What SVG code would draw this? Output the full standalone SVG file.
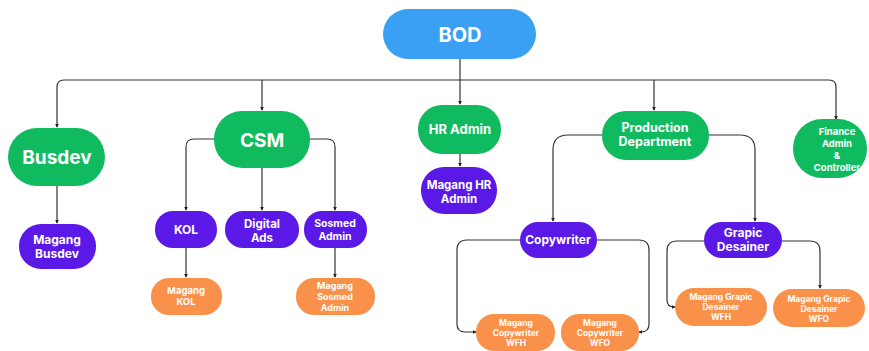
<svg xmlns="http://www.w3.org/2000/svg" width="869" height="351" viewBox="0 0 869 351">
<style>
text{font-family:Inter,"Noto Sans","Liberation Sans",sans-serif;font-weight:700;fill:#fff;text-anchor:middle}
.blue{fill:#3AA0F3}.green{fill:#10BB5F}.purple{fill:#5A19E6}.orange{fill:#FA914A}
.c path{fill:none;stroke:#333;stroke-width:1.2}
</style>
<defs>
<marker id="ah" viewBox="0 0 6 6" refX="5" refY="3" markerWidth="4" markerHeight="4" orient="auto" markerUnits="userSpaceOnUse">
<path d="M0,0 L6,3 L0,6 z" fill="#222"/>
</marker>
</defs>
<rect width="869" height="351" fill="#fff"/>
<g class="c" id="connectors">
<path d="M460,59 V80"/>
<path d="M460,80 H64 Q57,80 57,87 V127" marker-end="url(#ah)"/>
<path d="M460,80 H829 Q836,80 836,87 V119" marker-end="url(#ah)"/>
<path d="M262,80 V110" marker-end="url(#ah)"/>
<path d="M460,80 V104" marker-end="url(#ah)"/>
<path d="M654,80 V110" marker-end="url(#ah)"/>
<path d="M57,186 V223" marker-end="url(#ah)"/>
<path d="M214,139 H194 Q186,139 186,147 V210" marker-end="url(#ah)"/>
<path d="M262,168 V210" marker-end="url(#ah)"/>
<path d="M310,139 H327 Q335,139 335,147 V210" marker-end="url(#ah)"/>
<path d="M186,248 V277" marker-end="url(#ah)"/>
<path d="M335,248 V277" marker-end="url(#ah)"/>
<path d="M460,154 V166" marker-end="url(#ah)"/>
<path d="M602,135 H568 Q553,135 553,150 V221" marker-end="url(#ah)"/>
<path d="M709,135 H740 Q755,135 755,150 V221" marker-end="url(#ah)"/>
<path d="M520,240 H467 Q457,240 457,250 V324 Q457,332 465,332 H476" marker-end="url(#ah)"/>
<path d="M597,240 H639 Q649,240 649,250 V324 Q649,332 641,332 H639" marker-end="url(#ah)"/>
<path d="M704,241 H677 Q667,241 667,251 V300 Q667,307 674,307 H675" marker-end="url(#ah)"/>
<path d="M782,241 H810 Q820,241 820,251 V288" marker-end="url(#ah)"/>
</g>
<g id="bod"><rect class="blue" x="383" y="9" width="153" height="50" rx="25"/><text x="460" y="42" font-size="20">BOD</text></g>
<g id="busdev"><rect class="green" x="8" y="128" width="97" height="58" rx="29"/><text x="57" y="164" font-size="19">Busdev</text></g>
<g id="csm"><rect class="green" x="214" y="111" width="96" height="57" rx="28"/><text x="262" y="147" font-size="19">CSM</text></g>
<g id="hr-admin"><rect class="green" x="418" y="105" width="83" height="49" rx="24"/><text x="460" y="134" font-size="13">HR Admin</text></g>
<g id="production"><rect class="green" x="602" y="111" width="107" height="49" rx="24"/><text x="655" y="132" font-size="12.5">Production</text><text x="655" y="146" font-size="12.5">Department</text></g>
<g id="finance"><rect class="green" x="793" y="119" width="74" height="59" rx="29"/><text x="837" y="135" font-size="9.5">Finance</text><text x="837" y="147" font-size="9.5">Admin</text><text x="837" y="159" font-size="9.5">&amp;</text><text x="837" y="171" font-size="9.5">Controller</text></g>
<g id="magang-busdev"><rect class="purple" x="19" y="224" width="77" height="45" rx="22"/><text x="57" y="244" font-size="12">Magang</text><text x="57" y="258" font-size="12">Busdev</text></g>
<g id="kol"><rect class="purple" x="155" y="211" width="62" height="37" rx="18"/><text x="186" y="234" font-size="12">KOL</text></g>
<g id="digital-ads"><rect class="purple" x="225" y="211" width="74" height="37" rx="18"/><text x="262" y="228" font-size="11.5">Digital</text><text x="262" y="242" font-size="11.5">Ads</text></g>
<g id="sosmed-admin"><rect class="purple" x="304" y="211" width="63" height="37" rx="18"/><text x="335" y="227" font-size="10.5">Sosmed</text><text x="335" y="240" font-size="10.5">Admin</text></g>
<g id="magang-hr"><rect class="purple" x="421" y="167" width="76" height="47" rx="23"/><text x="459" y="189" font-size="11.5">Magang HR</text><text x="459" y="203" font-size="11.5">Admin</text></g>
<g id="copywriter"><rect class="purple" x="520" y="222" width="77" height="36" rx="18"/><text x="558" y="244" font-size="12">Copywriter</text></g>
<g id="grapic"><rect class="purple" x="704" y="222" width="78" height="36" rx="18"/><text x="743" y="237" font-size="12">Grapic</text><text x="743" y="251" font-size="12">Desainer</text></g>
<g id="magang-kol"><rect class="orange" x="151" y="278" width="71" height="37" rx="18"/><text x="186" y="294" font-size="9.5">Magang</text><text x="186" y="305" font-size="9.5">KOL</text></g>
<g id="magang-sosmed"><rect class="orange" x="296" y="278" width="79" height="37" rx="18"/><text x="335" y="289" font-size="9">Magang</text><text x="335" y="300" font-size="9">Sosmed</text><text x="335" y="311" font-size="9">Admin</text></g>
<g id="magang-cw-wfh"><rect class="orange" x="476" y="314" width="79" height="37" rx="18"/><text x="516" y="326" font-size="8.5">Magang</text><text x="516" y="336" font-size="8.5">Copywriter</text><text x="516" y="346" font-size="8.5">WFH</text></g>
<g id="magang-cw-wfo"><rect class="orange" x="561" y="314" width="78" height="37" rx="18"/><text x="600" y="326" font-size="8.5">Magang</text><text x="600" y="336" font-size="8.5">Copywriter</text><text x="600" y="346" font-size="8.5">WFO</text></g>
<g id="magang-gd-wfh"><rect class="orange" x="675" y="288" width="92" height="38" rx="19"/><text x="721" y="300" font-size="8.5">Magang Grapic</text><text x="721" y="310" font-size="8.5">Desainer</text><text x="721" y="320" font-size="8.5">WFH</text></g>
<g id="magang-gd-wfo"><rect class="orange" x="773" y="289" width="92" height="38" rx="19"/><text x="819" y="302" font-size="8.5">Magang Grapic</text><text x="819" y="312" font-size="8.5">Desainer</text><text x="819" y="322" font-size="8.5">WFO</text></g>
</svg>
